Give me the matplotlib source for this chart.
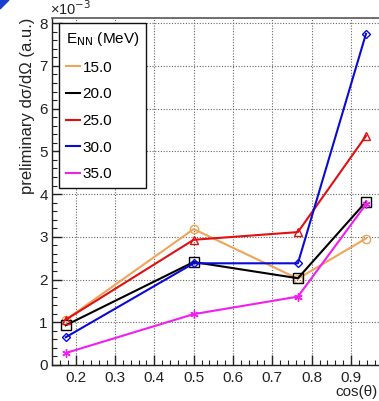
import matplotlib
matplotlib.use("Agg")
import matplotlib.pyplot as plt
from matplotlib.ticker import MultipleLocator, FuncFormatter
from matplotlib.patches import Polygon

plt.rcParams['font.family'] = ['Liberation Sans', 'DejaVu Sans']

# Scattering angle bins and differential cross sections (units of 1e-3, a.u.)
cos_theta = [0.175, 0.50, 0.765, 0.938]
energies = ["15.0", "20.0", "25.0", "30.0", "35.0"]
xsec_15 = [1.06, 3.18, 2.02, 2.96]
xsec_20 = [0.93, 2.41, 2.03, 3.82]
xsec_25 = [1.06, 2.93, 3.11, 5.36]
xsec_30 = [0.65, 2.38, 2.38, 7.75]
xsec_35 = [0.28, 1.19, 1.60, 3.76]

series = [xsec_15, xsec_20, xsec_25, xsec_30, xsec_35]
colors = ['#EDA55A', '#000000', '#E01010', '#0A0AD8', '#F01EF0']
markers = ['o', 's', '^', 'D', (6, 2, 0)]
msizes = [6, 6.5, 6, 4, 6]

fig = plt.figure(figsize=(3.79, 4.01), dpi=100)
W, H = 379, 401
left, right, top, bottom = 52, 382.5, 18, 365
ax = fig.add_axes([left / W, 1 - bottom / H, (right - left) / W, (bottom - top) / H])

for ys, c, m, ms, lab in zip(series, colors, markers, msizes, energies):
    ax.plot(cos_theta, ys, color=c, lw=1.5, marker=m, ms=ms,
            markerfacecolor='none', markeredgecolor=c, markeredgewidth=1.0,
            label=lab)

ax.set_xlim(0.14, 0.98)
ax.set_ylim(0, 8.12)
ax.xaxis.set_major_locator(MultipleLocator(0.1))
ax.xaxis.set_minor_locator(MultipleLocator(0.02))
ax.yaxis.set_major_locator(MultipleLocator(1))
ax.yaxis.set_minor_locator(MultipleLocator(0.2))
ax.xaxis.set_major_formatter(FuncFormatter(lambda v, p: f"{v:.1f}"))
ax.yaxis.set_major_formatter(FuncFormatter(lambda v, p: f"{v:.0f}"))
ax.tick_params(which='both', direction='in', top=False, right=False,
               labelsize=11, colors='#222222')
ax.tick_params(which='major', length=7, width=1.0)
ax.tick_params(which='minor', length=3.5, width=0.8)
ax.tick_params(axis='x', pad=4)
ax.tick_params(axis='y', pad=3)
ax.grid(True, which='major', linestyle=(0, (1, 1.5)), color='#666666', lw=0.8)
for s in ['left', 'bottom']:
    ax.spines[s].set_color('#222222')
    ax.spines[s].set_linewidth(1.0)
ax.spines['top'].set_color('#555555')
ax.spines['top'].set_linewidth(1.2)
ax.spines['right'].set_visible(False)

ax.set_ylabel("preliminary d\u03c3/d\u03a9 (a.u.)", fontsize=12, loc='top',
              labelpad=3, color='#222222')
fig.text(50 / W, 1 - 18 / H, "\u00d710$^{-3}$", fontsize=10.5, color='#222222',
         ha='left', va='bottom')
fig.text(378 / W, 1 - 399 / H, "cos(\u03b8)", fontsize=11, color='#222222',
         ha='right', va='bottom')

leg = ax.legend(title="E$_{\\rm NN}$ (MeV)", loc='upper left',
                bbox_to_anchor=((59 - left) / (right - left), 1 - (23 - top) / (bottom - top)),
                frameon=True, fancybox=False, fontsize=11, title_fontsize=11,
                handlelength=0.9, handletextpad=0.2, labelspacing=0.83,
                borderpad=0.45, borderaxespad=0.0)
for h in leg.legend_handles:
    h.set_marker('')
leg.get_frame().set_edgecolor('#111111')
leg.get_frame().set_linewidth(1.0)
leg.get_frame().set_alpha(1)
leg._legend_box.align = "left"

# corner accent
fig.patches.append(Polygon([(0, 1), (9 / W, 1), (0, 1 - 9 / H)], closed=True,
                           transform=fig.transFigure, color='#1a3fd0', zorder=10))

fig.savefig("out.png", dpi=100)
